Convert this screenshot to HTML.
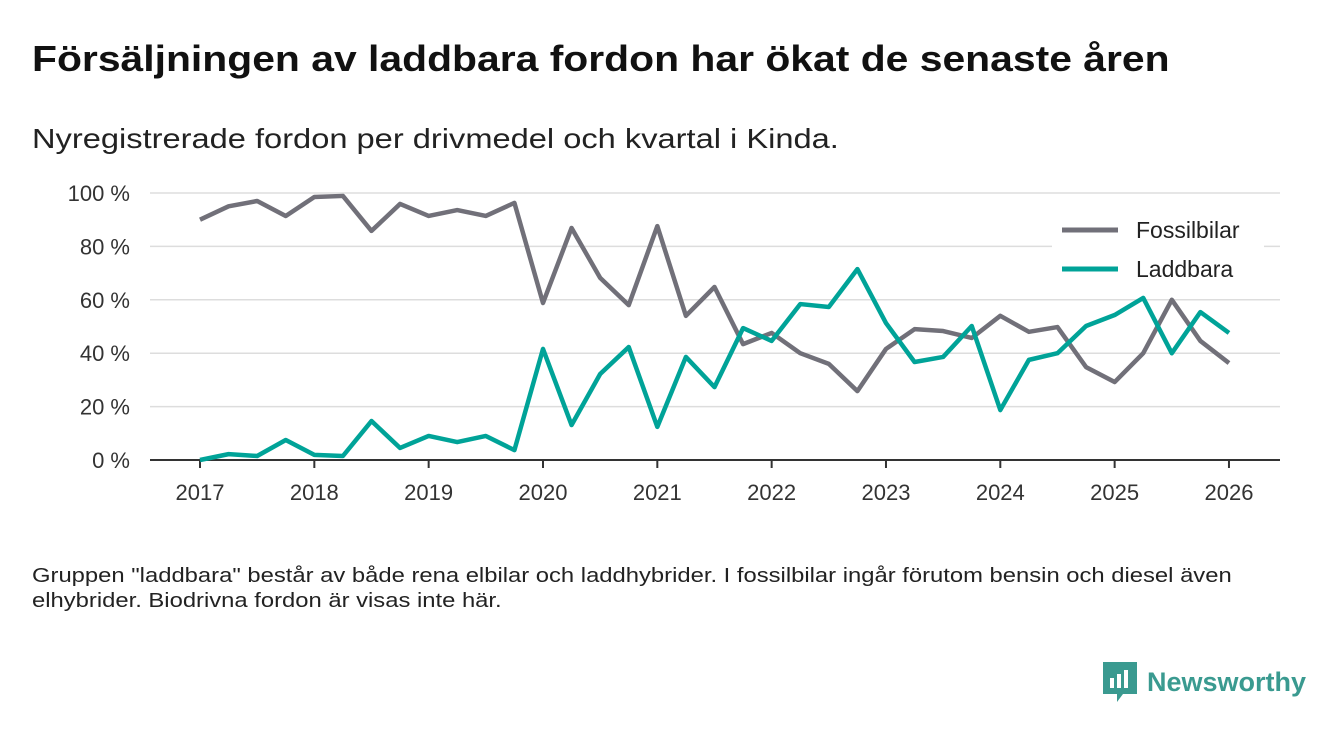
<!DOCTYPE html>
<html><head><meta charset="utf-8"><style>
body{margin:0;width:1340px;height:733px;background:#fff;font-family:"Liberation Sans","DejaVu Sans",sans-serif;overflow:hidden;position:relative}
.t{position:absolute;left:32px;top:38px;font-size:36px;font-weight:bold;color:#111;margin:0;white-space:nowrap;transform-origin:0 0;transform:scaleX(1.135)}
.s{position:absolute;left:32px;top:123px;font-size:28px;color:#222;white-space:nowrap;transform-origin:0 0;transform:scaleX(1.165)}
.n{position:absolute;left:32px;top:564px;font-size:20px;color:#222;line-height:25px;white-space:nowrap;transform-origin:0 0;transform:scaleX(1.19)}
.logo{position:absolute;left:1103px;top:662px;display:flex;align-items:center;gap:10px;font-size:27px;font-weight:bold;color:#3a9a90}
</style></head><body>
<h1 class="t">Försäljningen av laddbara fordon har ökat de senaste åren</h1>
<div class="s">Nyregistrerade fordon per drivmedel och kvartal i Kinda.</div>
<svg id="c" width="1340" height="733" style="position:absolute;left:0;top:0"></svg>
<div class="n">Gruppen "laddbara" består av både rena elbilar och laddhybrider. I fossilbilar ingår förutom bensin och diesel även<br>elhybrider. Biodrivna fordon är visas inte här.</div>
<div class="logo">
<svg width="34" height="40" viewBox="0 0 34 40"><path d="M0 0H34V32H20L14 40V32H0Z" fill="#3a9a90"/><rect x="7" y="16" width="4" height="10" fill="#fff"/><rect x="14" y="12" width="4" height="14" fill="#fff"/><rect x="21" y="8" width="4" height="18" fill="#fff"/></svg>
<span>Newsworthy</span></div>
<script>
const years=[2017,2018,2019,2020,2021,2022,2023,2024,2025,2026];
const yTicks=[0,20,40,60,80,100];
const fossil=[90,95,97,91.4,98.5,98.9,85.8,95.9,91.4,93.6,91.4,96.3,58.8,86.9,68.2,58,87.6,54,64.8,43.4,47.6,40,36,25.8,41.6,49,48.3,45.7,54,48,49.8,34.8,29.2,40,60,44.6,36.3];
const laddbara=[0,2.2,1.5,7.5,1.9,1.5,14.6,4.5,9,6.7,9,3.7,41.6,13.1,32.2,42.3,12.4,38.6,27.3,49.4,44.6,58.4,57.3,71.5,51.3,36.7,38.6,50.2,18.7,37.5,40,50.2,54.3,60.7,40,55.4,47.6];
const svg=document.getElementById('c'),NS='http://www.w3.org/2000/svg';
const x=t=>200+(t-2017)*114.33, y=v=>460-v*2.67;
function mk(tag,a,p){const e=document.createElementNS(NS,tag);for(const k in a)e.setAttribute(k,a[k]);(p||svg).appendChild(e);return e;}
yTicks.forEach(v=>{
 if(v>0){const g=mk('line',{x1:150,x2:1280,y1:y(v),y2:y(v),stroke:'#ddd','stroke-width':1.5});
 
 }
 const t=mk('text',{x:130,y:y(v)+8,'text-anchor':'end','font-size':22,fill:'#333'});t.textContent=v+' %';
 
 
});
const ax=mk('line',{x1:150,x2:1280,y1:460,y2:460,stroke:'#333','stroke-width':2});


years.forEach(yr=>{
 mk('line',{x1:x(yr),x2:x(yr),y1:460,y2:468,stroke:'#333','stroke-width':2});
 const t=mk('text',{x:x(yr),y:500,'text-anchor':'middle','font-size':22,fill:'#333'});t.textContent=yr;
 
 
});
function line(d,col,name){const p=mk('polyline',{points:d.map((v,i)=>x(2017+i/4)+','+y(v)).join(' '),fill:'none',stroke:col,'stroke-width':4.5,'stroke-linejoin':'round'});
 
 }
line(fossil,'#717079','fossil-line');
line(laddbara,'#00a398','laddbara-line');
mk('rect',{x:1052,y:214,width:212,height:76,fill:'#fff'});
[['Fossilbilar','#717079',230],['Laddbara','#00a398',269]].forEach(([n,c,yy])=>{
 mk('line',{x1:1062,x2:1118,y1:yy,y2:yy,stroke:c,'stroke-width':5});
 const t=mk('text',{x:1136,y:yy+8,'font-size':23,fill:'#222'});t.textContent=n;
 
 
});
</script>
</body></html>
